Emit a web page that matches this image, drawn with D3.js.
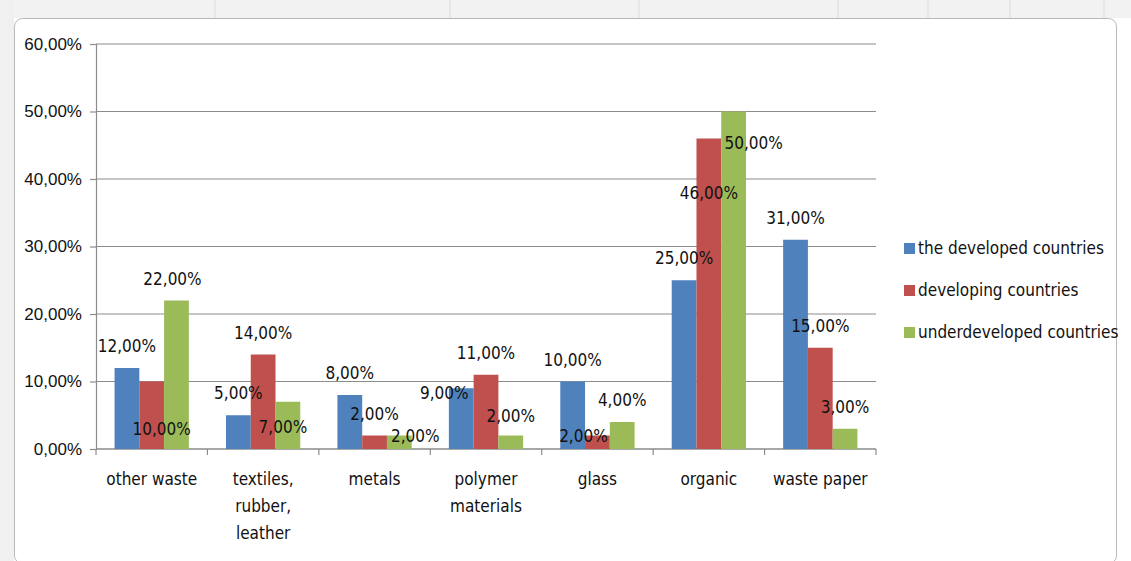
<!DOCTYPE html>
<html>
<head>
<meta charset="utf-8">
<script src="https://cdn.jsdelivr.net/npm/d3@7"></script>
<style>
  body { margin: 0; background: #fff; }
  svg text { font-family: "Liberation Sans Narrow", "Arial Narrow", "DejaVu Sans Condensed", sans-serif; fill: #111; }
</style>
</head>
<body>
<div class="chart"></div>
<script>
var svgWidth = 1131;
var svgHeight = 561;

// data
var categories = ["other waste", "textiles, rubber, leather", "metals", "polymer materials", "glass", "organic", "waste paper"];
var seriesNames = ["the developed countries", "developing countries", "underdeveloped countries"];
var developed = [12, 5, 8, 9, 10, 25, 31];
var developing = [10, 14, 2, 11, 2, 46, 15];
var underdeveloped = [22, 7, 2, 2, 4, 50, 3];
var yTicks = [0, 10, 20, 30, 40, 50, 60];
var colors = ["#4f81bd", "#c0504d", "#9bbb59"];

// wrapped category labels, like Excel does
var catLines = [["other waste"], ["textiles,", "rubber,", "leather"], ["metals"], ["polymer", "materials"], ["glass"], ["organic"], ["waste paper"]];

// labels were dragged around by hand in the original, offsets from the default spot
var labelShift = {
  "0-1": [10, 69], "0-2": [-4, 0],
  "1-2": [-5, 47],
  "2-2": [16, 22],
  "3-0": [-17, 27], "3-2": [0, 2],
  "4-1": [-14, 22],
  "5-1": [0, 76], "5-2": [20, 53]
};

var margin = { top: 44, left: 96, right: 255, bottom: 112 };
var width = svgWidth - margin.left - margin.right;
var height = svgHeight - margin.top - margin.bottom;

var svg = d3.select(".chart")
  .append("svg")
  .attr("width", svgWidth)
  .attr("height", svgHeight);

// spreadsheet bits round the chart object
svg.append("rect").attr("x", 0).attr("y", 0).attr("width", svgWidth).attr("height", 18).attr("fill", "#f2f2f2");
svg.append("rect").attr("x", 0).attr("y", 0).attr("width", 14).attr("height", svgHeight).attr("fill", "#f0f0f0");
[215, 450, 639, 838, 928, 1010, 1104].forEach(function (x) {
  svg.append("line").attr("x1", x).attr("x2", x).attr("y1", 0).attr("y2", 18).attr("stroke", "#dcdcdc");
});
svg.append("rect")
  .attr("x", 14.5).attr("y", 18.5)
  .attr("width", 1102).attr("height", 545)
  .attr("rx", 8)
  .attr("fill", "#fff")
  .attr("stroke", "#b8b8b8");

var chartGroup = svg.append("g")
  .attr("transform", `translate(${margin.left}, ${margin.top})`);

// gap width 150% like the Excel default
var xScale = d3.scaleBand()
  .domain(categories)
  .range([0, width])
  .paddingInner(1 / 3)
  .paddingOuter(1 / 6);

var yScale = d3.scaleLinear()
  .domain([0, 60])
  .range([height, 0]);

var xSub = d3.scaleBand()
  .domain(d3.range(3))
  .range([0, xScale.bandwidth()]);

// gridlines
chartGroup.selectAll(".grid")
  .data(yTicks)
  .enter()
  .append("line")
  .attr("x1", 0)
  .attr("x2", width)
  .attr("y1", d => yScale(d))
  .attr("y2", d => yScale(d))
  .attr("stroke", "#8c8c8c")
  .attr("stroke-width", 1.2);

// y axis
var leftAxis = d3.axisLeft(yScale)
  .tickValues(yTicks)
  .tickSize(6)
  .tickFormat(d => d3.format(".2f")(d).replace(".", ",") + "%");

var yAxis = chartGroup.append("g").call(leftAxis);
yAxis.select(".domain").attr("stroke", "#8c8c8c").attr("stroke-width", 1.2);
yAxis.selectAll(".tick line").attr("stroke", "#8c8c8c").attr("stroke-width", 1.2);
yAxis.selectAll(".tick text")
  .attr("x", -14)
  .style("font-size", "17px")
  .style("font-family", "'Liberation Sans Narrow', sans-serif");

// x axis with tick marks between categories
var step = xScale.step();
var xAxisG = chartGroup.append("g").attr("transform", `translate(0, ${height})`);
xAxisG.append("line").attr("x1", 0).attr("x2", width).attr("stroke", "#8c8c8c").attr("stroke-width", 1.2);
xAxisG.selectAll(".xt")
  .data(d3.range(categories.length + 1))
  .enter()
  .append("line")
  .attr("x1", d => d * step)
  .attr("x2", d => d * step)
  .attr("y1", 0)
  .attr("y2", 6)
  .attr("stroke", "#8c8c8c")
  .attr("stroke-width", 1.2);

xAxisG.selectAll(".cat")
  .data(categories)
  .enter()
  .append("text")
  .attr("text-anchor", "middle")
  .attr("x", d => xScale(d) + xScale.bandwidth() / 2)
  .attr("y", 36)
  .style("font-size", "17px")
  .each(function (d, i) {
    var t = d3.select(this);
    catLines[i].forEach(function (line, k) {
      t.append("tspan")
        .attr("x", xScale(d) + xScale.bandwidth() / 2)
        .attr("dy", k === 0 ? 0 : 27)
        .text(line);
    });
  });

// bars
var seriesData = [developed, developing, underdeveloped];
var barData = [];
categories.forEach(function (c, i) {
  seriesData.forEach(function (s, j) {
    barData.push({ cat: c, ci: i, si: j, value: s[i] });
  });
});

chartGroup.selectAll(".bar")
  .data(barData)
  .enter()
  .append("rect")
  .attr("x", d => xScale(d.cat) + xSub(d.si))
  .attr("y", d => yScale(d.value))
  .attr("width", xSub.bandwidth())
  .attr("height", d => height - yScale(d.value))
  .attr("fill", d => colors[d.si]);

// value labels
chartGroup.selectAll(".lbl")
  .data(barData)
  .enter()
  .append("text")
  .attr("text-anchor", "middle")
  .attr("x", function (d) {
    var s = labelShift[d.ci + "-" + d.si] || [0, 0];
    return xScale(d.cat) + xSub(d.si) + xSub.bandwidth() / 2 + s[0];
  })
  .attr("y", function (d) {
    var s = labelShift[d.ci + "-" + d.si] || [0, 0];
    return yScale(d.value) - 16 + s[1];
  })
  .style("font-size", "17px")
  .text(d => d3.format(".2f")(d.value).replace(".", ",") + "%");

// legend
var legend = svg.append("g").attr("transform", "translate(904, 248)");
seriesNames.forEach(function (name, i) {
  var row = legend.append("g").attr("transform", `translate(0, ${i * 42})`);
  row.append("rect")
    .attr("x", 0).attr("y", -5)
    .attr("width", 11).attr("height", 11)
    .attr("fill", colors[i]);
  row.append("text")
    .attr("x", 14)
    .attr("y", 6)
    .style("font-size", "17px")
    .text(name);
});
</script>
</body>
</html>
